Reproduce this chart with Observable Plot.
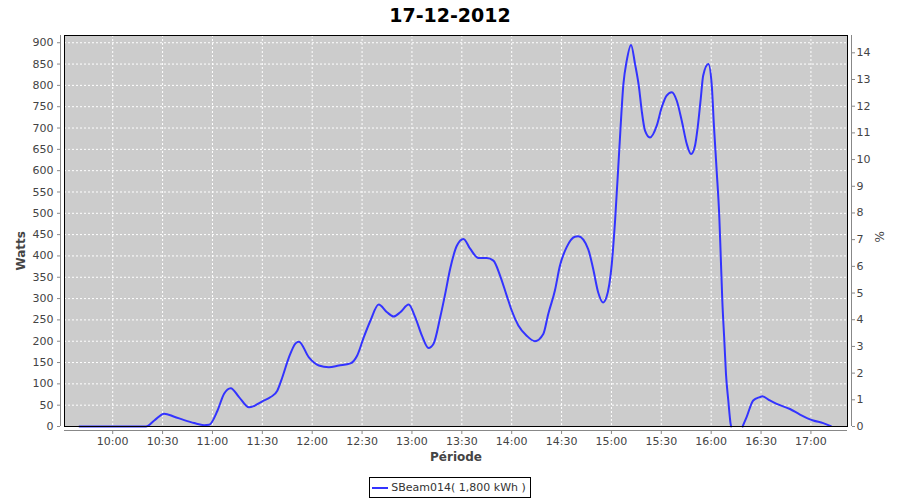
<!DOCTYPE html>
<html><head><meta charset="utf-8">
<script src="https://cdn.jsdelivr.net/npm/d3@7"></script>
<script src="https://cdn.jsdelivr.net/npm/@observablehq/plot@0.6"></script>
<style>
body{margin:0;background:#fff;font-family:"DejaVu Sans",sans-serif;}
#title{height:30px;line-height:30px;text-align:center;font-weight:bold;font-size:19px;color:#000;}
#legend{text-align:center;margin-top:7px;line-height:0;}
.box{display:inline-flex;align-items:center;border:1px solid #000;height:19px;padding:0 4px 0 2px;font-size:11px;color:#333;line-height:19px;}
.swatch{display:inline-block;width:16px;height:2px;background:#3333ff;margin-right:3px;}
</style></head><body>
<div id="title"></div>
<div id="chart"></div>
<div id="legend"><span class="box"><span class="swatch"></span><span id="legtext"></span></span></div>
<script>
const title = "17-12-2012";
const seriesName = "SBeam014( 1,800 kWh )";
const yLabel = "Watts";
const y2Label = "%";
const xLabel = "Période";

const times = ["09:40","10:00","10:20","10:25","10:31","10:37","10:43","10:49","10:55","10:58",
"11:03","11:07","11:11","11:16","11:22","11:25","11:30","11:35","11:39","11:42","11:46","11:50","11:52","11:58",
"12:04","12:10","12:16","12:23","12:27","12:31","12:35","12:40","12:45","12:49","12:53","12:58",
"13:02","13:06","13:10","13:13","13:17","13:20","13:23","13:27","13:31","13:35","13:40","13:45","13:49","13:53","13:57",
"14:00","14:04","14:09","14:14","14:19","14:22","14:26","14:29","14:33","14:38","14:40","14:46","14:49","14:52","14:55","14:57",
"15:00.2","15:02.2","15:04.8","15:07.2","15:09.2","15:11.8","15:14.2","15:16.6","15:18.2","15:20.2","15:23.2","15:27.2","15:30.2","15:33.2","15:36.3","15:39.3","15:42.3","15:45.3","15:47.9","15:50.3","15:51.9","15:53.7","15:55.2","15:58.3",
"16:00.3","16:01.7","16:03.3","16:04.9","16:05.7","16:06.7","16:07.9","16:08.9","16:10.3","16:11.7","16:12","16:15","16:18.9","16:21.3","16:25.3","16:29.3","16:30.7","16:35.3","16:39.4","16:47.4","16:53.4",
"17:01.4","17:07.4","17:12"];
const watts = [0,0,0,14,30,23,15,8,3,4,
37,77,90,69,45,48,59,69,84,115,162,195,199,162,
143,139,143,148,166,209,248,286,268,258,268,286,
256,213,184,194,256,311,370,424,440,417,395,395,389,354,307,
272,237,213,200,217,264,319,377,420,445,446,416,370,315,291,303,
381,483,655,803,858,895,850,795,741,694,678,705,748,776,784,764,717,663,639,659,702,768,823,850,
803,702,600,490,405,295,202,123,61,6,0,null,0,22,61,69,71,61,53,41,28,
14,8,1];

const xTickLabels = ["10:00","10:30","11:00","11:30","12:00","12:30","13:00","13:30","14:00","14:30","15:00","15:30","16:00","16:30","17:00"];
const wattTicks = [0,50,100,150,200,250,300,350,400,450,500,550,600,650,700,750,800,850,900];
const pctTicks = [0,1,2,3,4,5,6,7,8,9,10,11,12,13,14];
const wattsPerPct = 62.6;
const xDomain = ["09:31","17:22"];
const yDomain = [0, 917];

document.getElementById("title").textContent = title;
document.getElementById("legtext").textContent = seriesName;

const parse = s => { const [h,m] = s.split(":").map(Number); return new Date(Date.UTC(2012, 11, 17) + (h * 60 + m) * 60000); };
const data = times.map((t,i) => ({t: parse(t), w: watts[i]}));
const xTicks = xTickLabels.map(parse);
const xd = xDomain.map(parse);
const fmt = d3.utcFormat("%H:%M");

const chart = Plot.plot({
  width: 900, height: 440,
  marginTop: 5, marginLeft: 64, marginRight: 53, marginBottom: 44,
  style: {fontFamily: "DejaVu Sans", fontSize: "11px", background: "white", color: "#444", overflow: "visible"},
  x: {type: "utc", domain: xd, label: null},
  y: {domain: yDomain, label: null},
  marks: [
    Plot.frame({fill: "#cccccc"}),
    Plot.gridX(xTicks, {stroke: "white", strokeOpacity: 1, strokeDasharray: "2,2"}),
    Plot.gridY(wattTicks, {stroke: "white", strokeOpacity: 1, strokeDasharray: "2,2"}),
    Plot.line(data, {x: "t", y: "w", stroke: "#3333ff", strokeWidth: 2, curve: "monotone-x"}),
    Plot.frame({stroke: "black"}),
    Plot.ruleX([xd[0]], {stroke: "#888", dx: -4}),
    Plot.ruleX([xd[1]], {stroke: "#888", dx: 4}),
    Plot.ruleY([yDomain[0]], {stroke: "#888", dy: 4}),
    Plot.axisX(xTicks, {anchor: "bottom", tickFormat: fmt, tickSize: 4, tickPadding: 3, dy: 4, stroke: "#888", fill: "#444", label: null}),
    Plot.axisY(wattTicks, {anchor: "left", tickSize: 3, tickPadding: 4, dx: -4, stroke: "#888", fill: "#444", label: null}),
    Plot.axisY(pctTicks.map(p => p * wattsPerPct), {anchor: "right", tickSize: 3, tickPadding: 2, dx: 4, stroke: "#888", fill: "#444", label: null, tickFormat: d => String(Math.round(d / wattsPerPct))}),
    Plot.text([yLabel], {text: d => d, frameAnchor: "left", rotate: -90, textAnchor: "end", dx: -43, fontWeight: "bold", fontSize: 12, fill: "#444"}),
    Plot.text([y2Label], {text: d => d, frameAnchor: "right", rotate: -90, dx: 33, fontSize: 12, fill: "#444"}),
    Plot.text([xLabel], {text: d => d, frameAnchor: "bottom", dy: 34, fontWeight: "bold", fontSize: 12, fill: "#444"})
  ]
});
document.getElementById("chart").appendChild(chart);
</script>
</body></html>
